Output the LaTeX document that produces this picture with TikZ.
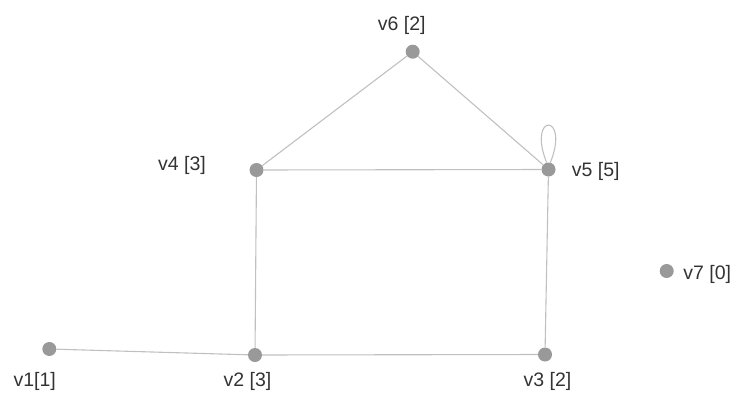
\documentclass[tikz,border=0pt]{standalone}
\usepackage{fontspec}
\setmainfont{Liberation Sans}
\definecolor{dotgray}{RGB}{153,153,153}
\definecolor{edgegray}{RGB}{192,192,192}
\definecolor{textgray}{RGB}{51,51,51}
\begin{document}
\begin{tikzpicture}[x=1pt,y=-1pt,
  vert/.style={circle,fill=dotgray,inner sep=0pt,minimum size=14pt},
  vlab/.style={anchor=base,text=textgray,inner sep=0pt,font=\fontsize{19.5}{20}\selectfont},
  edge/.style={draw=edgegray,line width=1.1pt}]
\useasboundingbox (0,0) rectangle (734,394);
\foreach \n/\x/\y in {v1/49.3/349,v2/255/355,v3/545/354.5,v4/256.5/170,v5/548.5/169.5,v6/412.7/51.7,v7/666.7/271}
{
\node[vert] (\n) at (\x,\y) {};
}
\foreach \a/\b in {v1/v2,v2/v3,v2/v4,v3/v5,v4/v5,v4/v6,v6/v5}
{
\draw[edge] (\a) -- (\b);
}
\draw[edge] (v5.105) .. controls +(-20,-50) and +(20,-50) .. (v5.75);

% degree labels
\node[vlab] (l1) at (34.7,386.7) {v1[1]};
\node[vlab] (l2) at (247.5,386) {v2 [3]};
\node[vlab] (l3) at (547.5,386) {v3 [2]};
\node[vlab] (l4) at (182,170) {v4 [3]};
\node[vlab] (l5) at (595.8,176.7) {v5 [5]};
\node[vlab] (l6) at (401.7,30.7) {v6 [2]};
\node[vlab] (l7) at (707.3,279) {v7 [0]};
\end{tikzpicture}
\end{document}
